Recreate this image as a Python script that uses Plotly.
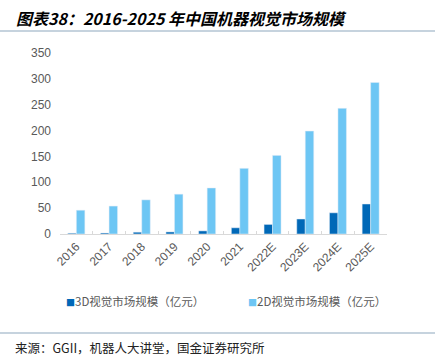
import plotly.graph_objects as go

years = ["2016", "2017", "2018", "2019", "2020", "2021", "2022E", "2023E", "2024E", "2025E"]
vals_3d = [1.5, 2, 3.5, 4, 6, 12, 18.5, 29, 41, 58]
vals_2d = [46, 54, 66, 77, 89, 127, 152, 199, 243, 293]
name_3d = "3D视觉市场规模（亿元）"
name_2d = "2D视觉市场规模（亿元）"
title_text = "图表38：2016-2025 年中国机器视觉市场规模"
source_text = "来源：GGII，机器人大讲堂，国金证券研究所"

C3 = "#0068B7"
C2 = "#6DC6F4"

W, H = 435, 356
L, R, T, B = 60, 48, 53, 122
pw, ph = W - L - R, H - T - B

def px(x):
    return (x - L) / pw

def py(y):
    return (H - B - y) / ph

fig = go.Figure()
fig.add_bar(x=years, y=vals_3d, name=name_3d, marker_color=C3, showlegend=False)
fig.add_bar(x=years, y=vals_2d, name=name_2d, marker_color=C2, showlegend=False)

fig.update_layout(
    width=W, height=H, autosize=False,
    margin=dict(l=L, r=R, t=T, b=B),
    paper_bgcolor="white", plot_bgcolor="white",
    barmode="group", bargap=0.48, bargroupgap=0,
    font=dict(family="Liberation Sans, Arial, sans-serif", size=12, color="#595959"),
)
fig.update_xaxes(
    type="category", tickangle=-45, showgrid=False,
    showline=True, linecolor="#D9D9D9", linewidth=1,
    ticks="inside", tickson="boundaries", ticklen=3, tickcolor="#D9D9D9",
    tickfont=dict(size=12, color="#595959"),
)
fig.update_yaxes(
    range=[0, 350], dtick=50, showgrid=False, zeroline=False, showline=False,
    ticks="", tickfont=dict(size=12, color="#595959"), ticklabelstandoff=8,
)

cjk = "Noto Sans CJK SC"
fig.add_annotation(
    text=f"<b><i>{title_text}</i></b>", xref="paper", yref="paper",
    x=px(14), y=py(18), xanchor="left", yanchor="middle", showarrow=False,
    font=dict(family=cjk, size=16, color="#000000"),
)
fig.add_shape(type="line", xref="paper", yref="paper",
              x0=px(0), x1=px(W), y0=py(31), y1=py(31),
              line=dict(color="#8EA7BD", width=1.2))
fig.add_shape(type="line", xref="paper", yref="paper",
              x0=px(0), x1=px(W), y0=py(333), y1=py(333),
              line=dict(color="#8EA7BD", width=1.2))
fig.add_annotation(
    text=source_text, xref="paper", yref="paper",
    x=px(13), y=py(347), xanchor="left", yanchor="middle", showarrow=False,
    font=dict(family=cjk, size=12.5, color="#222222"),
)
for xs, col, nm in [(64, C3, name_3d), (246, C2, name_2d)]:
    fig.add_annotation(
        text=f"<span style='color:{col};font-size:9px'>■</span>{nm}",
        xref="paper", yref="paper", x=px(xs), y=py(301),
        xanchor="left", yanchor="middle", showarrow=False,
        font=dict(family=cjk, size=11.5, color="#595959"),
    )

fig.write_html("out.html", config={"displayModeBar": False},
               post_script="document.body.style.margin='0';document.body.style.overflow='hidden';")
